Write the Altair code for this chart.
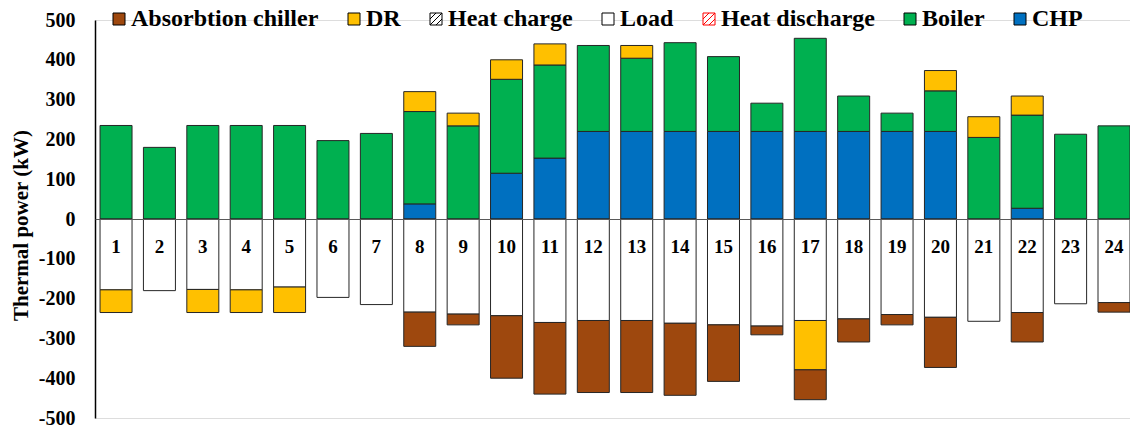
import altair as alt
import pandas as pd

# Hourly thermal balance (kW): supply above zero, demand below zero
hours = list(range(1, 25))
chp = [0, 0, 0, 0, 0, 0, 0, 38, 0, 115, 153, 220, 220, 220, 220, 220, 220, 220, 220, 220, 0, 27, 0, 0]
boiler = [235, 180, 235, 235, 235, 197, 215, 232, 234, 236, 234, 216, 184, 223, 188, 71, 234, 89, 46, 102, 205, 234, 213, 234]
dr_supply = [0, 0, 0, 0, 0, 0, 0, 50, 32, 49, 53, 0, 32, 0, 0, 0, 0, 0, 0, 51, 52, 48, 0, 0]
load = [178, 180, 177, 178, 171, 197, 215, 234, 239, 243, 260, 255, 255, 262, 266, 269, 255, 251, 240, 247, 257, 235, 213, 210]
dr_demand = [57, 0, 58, 57, 64, 0, 0, 0, 0, 0, 0, 0, 0, 0, 0, 0, 124, 0, 0, 0, 0, 0, 0, 0]
chiller = [0, 0, 0, 0, 0, 0, 0, 86, 27, 157, 180, 181, 181, 181, 142, 22, 75, 58, 26, 126, 0, 74, 0, 24]

series_names = ["Absorbtion chiller", "DR", "Heat charge", "Load", "Heat discharge", "Boiler", "CHP"]
series_colors = ["#9E480E", "#FFC000", "#FFFFFF", "#FFFFFF", "#FFFFFF", "#00B050", "#0070C0"]

rows = []
for i, h in enumerate(hours):
    # positive stack from the baseline upward
    rows.append((str(h), "CHP", chp[i], 1))
    rows.append((str(h), "Boiler", boiler[i], 2))
    rows.append((str(h), "DR", dr_supply[i], 3))
    # negative stack from the baseline downward
    rows.append((str(h), "Load", -load[i], 4))
    rows.append((str(h), "DR", -dr_demand[i], 5))
    rows.append((str(h), "Absorbtion chiller", -chiller[i], 6))
df = pd.DataFrame(rows, columns=["hour", "series", "value", "stack_order"])
df = df[df["value"] != 0]

FONT = "Liberation Serif"
HATCH = "M-1,-1H1V1H-1Z M-1,0L0,-1 M-1,1L1,-1 M0,1L1,0"
IS_HATCHED = "indexof(['Heat charge','Heat discharge'], datum.value) >= 0"

legend = alt.Legend(
    title=None,
    orient="none",
    direction="horizontal",
    legendX=12,
    legendY=-13,
    padding=0,
    symbolType=alt.ExprRef(expr=IS_HATCHED + " ? '" + HATCH + "' : 'square'"),
    symbolSize=144,
    symbolStrokeWidth=1,
    symbolStrokeColor=alt.ExprRef(expr="datum.value === 'Heat discharge' ? '#FF0000' : '#000000'"),
    labelFont=FONT,
    labelFontWeight="bold",
    labelFontSize=24,
    labelColor="#000000",
    labelOffset=0,
    labelLimit=400,
    columnPadding=23,
)

chart = (
    alt.Chart(df)
    .mark_bar(stroke="#262626", strokeWidth=1)
    .encode(
        x=alt.X(
            "hour:N",
            sort=[str(h) for h in hours],
            scale=alt.Scale(paddingInner=0.2625, paddingOuter=0.058, align=1),
            axis=alt.Axis(
                title=None,
                orient="bottom",
                offset=-199,
                ticks=False,
                tickSize=0,
                labelAngle=0,
                labelBaseline="middle",
                labelPadding=27,
                labelFont=FONT,
                labelFontWeight="bold",
                labelFontSize=19,
                labelColor="#000000",
                domainColor="#595959",
                domainWidth=1,
                zindex=1,
            ),
        ),
        y=alt.Y(
            "value:Q",
            stack="zero",
            scale=alt.Scale(domain=[-500, 500], nice=False),
            axis=alt.Axis(
                title="Thermal power (kW)",
                values=list(range(-500, 501, 100)),
                labelExpr="'' + datum.value",
                grid=False,
                ticks=False,
                labelPadding=20,
                labelFont=FONT,
                labelFontWeight="bold",
                labelFontSize=20,
                labelColor="#000000",
                domainColor="#000000",
                domainWidth=1.5,
                titleFont=FONT,
                titleFontWeight="bold",
                titleFontSize=21,
                titleColor="#000000",
                titleAngle=-90,
                titleX=-74,
                titleY=205,
                titleAlign="center",
                titleBaseline="middle",
            ),
        ),
        color=alt.Color(
            "series:N",
            scale=alt.Scale(domain=series_names, range=series_colors),
            legend=legend,
        ),
        order=alt.Order("stack_order:Q"),
    )
    .properties(
        width=1035,
        height=398,
        autosize=alt.AutoSizeParams(type="none"),
        padding={"left": 95, "top": 20, "right": 0, "bottom": 17},
    )
    .configure_view(stroke=None)
    .configure(background="#FFFFFF")
)

chart.save("out.html", embed_options={"renderer": "svg", "actions": False})
